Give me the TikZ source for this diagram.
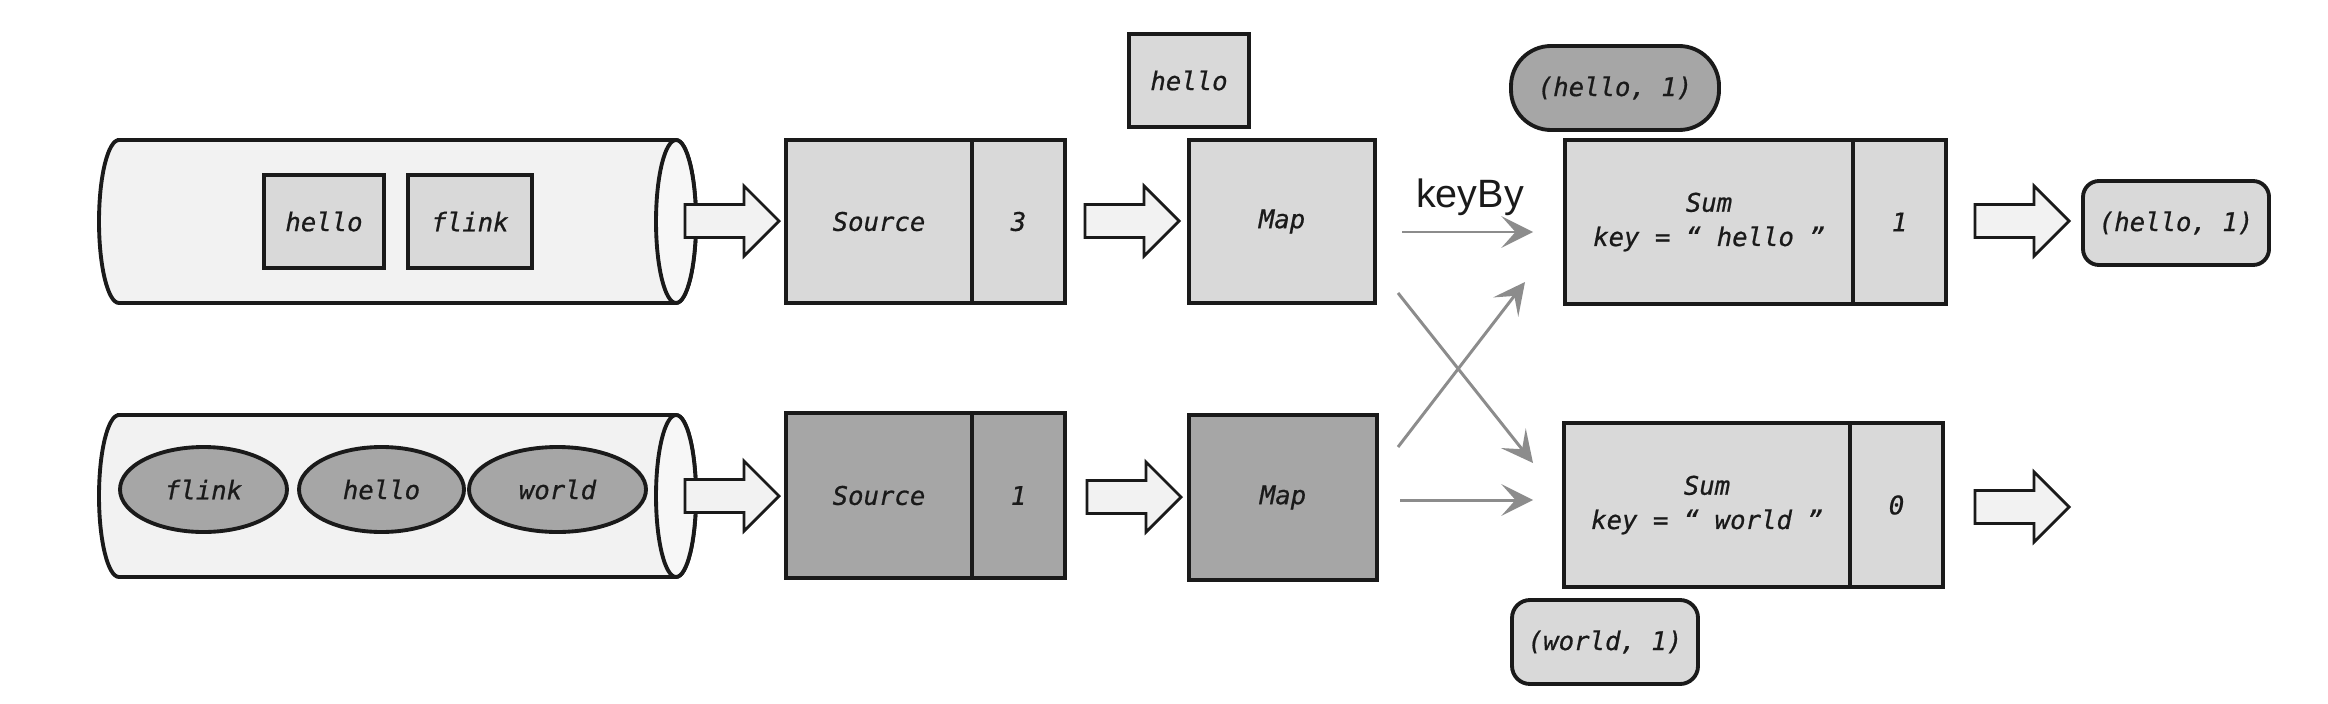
\documentclass[tikz,border=0pt]{standalone}
\usepackage{fontspec}
\setmainfont{Liberation Sans}
\newfontfamily\monofam{DejaVu Sans Mono}[FakeBold=0.7]
\usetikzlibrary{arrows.meta,shapes.geometric,calc}
\definecolor{lightfill}{HTML}{D9D9D9}
\definecolor{darkfill}{HTML}{A6A6A6}
\definecolor{palefill}{HTML}{F2F2F2}
\definecolor{edgecol}{HTML}{1A1A1A}
\definecolor{linkcol}{HTML}{8C8C8C}
\begin{document}
\begin{tikzpicture}[x=0.02cm,y=-0.02cm,
  txt/.style={font=\monofam\itshape\fontsize{14.6pt}{19.5pt}\selectfont, text=edgecol},
  sz/.style 2 args={minimum width=#1*0.02cm, minimum height=#2*0.02cm},
  box/.style={txt, draw=edgecol, line width=2.2pt, fill=lightfill, inner sep=0pt,
    outer sep=0pt, align=center, anchor=north west},
  darkbox/.style={box, fill=darkfill},
  ell/.style={txt, ellipse, draw=edgecol, line width=2.2pt, fill=darkfill, inner sep=0pt},
  cyl/.style={draw=edgecol, line width=2.2pt, fill=palefill},
  barrow/.style={draw=edgecol, line width=1.6pt, fill=palefill, line join=miter},
  link/.style={draw=linkcol, line width=1.7pt, -{Stealth[length=18pt,width=18pt,inset=8pt]}},
  blockarrow/.pic={\draw[barrow] (-47,-16.5) -- (12,-16.5) -- (12,-35) -- (47,0) -- (12,35) -- (12,16.5) -- (-47,16.5) -- cycle;}
]
\useasboundingbox (0,0) rectangle (2328,703);

% ---- cylinders ----
\draw[cyl] (119,140) -- (676,140) arc[start angle=90, end angle=-90, x radius=0.4cm, y radius=1.63cm]
  -- (119,303) arc[start angle=270, end angle=90, x radius=0.4cm, y radius=1.63cm] -- cycle;
\draw[cyl, fill=white!40!palefill] (676,221.5) ellipse[x radius=0.4cm, y radius=1.63cm];
\draw[cyl] (119,415) -- (676,415) arc[start angle=90, end angle=-90, x radius=0.4cm, y radius=1.62cm]
  -- (119,577) arc[start angle=270, end angle=90, x radius=0.4cm, y radius=1.62cm] -- cycle;
\draw[cyl, fill=white!40!palefill] (676,496) ellipse[x radius=0.4cm, y radius=1.62cm];

% ---- input elements ----
\node[box, sz={120}{93}] (inhello) at (264,175) {hello};
\node[box, sz={124}{93}] (inflink) at (408,175) {flink};
\node[ell, sz={167}{85}] (eflink) at (203.5,489.5) {flink};
\node[ell, sz={165}{85}] (ehello) at (381.5,489.5) {hello};
\node[ell, sz={177}{85}] (eworld) at (557.5,489.5) {world};

% ---- block arrows ----
\pic at (732,221) {blockarrow};
\pic at (732,496) {blockarrow};
\pic at (1132,221) {blockarrow};
\pic at (1134,497) {blockarrow};
\pic at (2022,221) {blockarrow};
\pic at (2022,507) {blockarrow};

% ---- sources ----
\node[box, sz={186}{163}] (src1) at (786,140) {Source};
\node[box, sz={93}{163}] (par1) at (972,140) {3};
\node[darkbox, sz={186}{165}] (src2) at (786,413) {Source};
\node[darkbox, sz={93}{165}] (par2) at (972,413) {1};

% ---- maps ----
\node[box, sz={120}{93}] (flyhello) at (1129,34) {hello};
\node[box, sz={186}{163}] (map1) at (1189,140) {Map};
\node[darkbox, sz={188}{165}] (map2) at (1189,415) {Map};

% ---- sums ----
\node[darkbox, sz={208}{84}, rounded corners=0.8cm] (pill) at (1511,46) {(hello, 1)};
\node[box, sz={288}{164}] (sum1) at (1565,140) {Sum\\key = “ hello ”};
\node[box, sz={93}{164}] (cnt1) at (1853,140) {1};
\node[box, sz={286}{164}] (sum2) at (1564,423) {Sum\\key = “ world ”};
\node[box, sz={93}{164}] (cnt2) at (1850,423) {0};
\node[box, sz={186}{84}, rounded corners=0.36cm] (worldone) at (1512,600) {(world, 1)};
\node[box, sz={186}{84}, rounded corners=0.32cm] (helloone) at (2083,181) {(hello, 1)};

% ---- keyBy connectors ----
\node[font=\fontsize{22.5pt}{26pt}\selectfont, text=edgecol, inner sep=0pt] (keyby) at (1470,197) {keyBy};
\coordinate (a1) at (1402,232); \coordinate (b1) at (1533,232);
\coordinate (a2) at (1398,293); \coordinate (b2) at (1533,463);
\coordinate (a3) at (1398,447); \coordinate (b3) at (1525,282);
\coordinate (a4) at (1400,500); \coordinate (b4) at (1533,500);
\draw[link] (a1) -- (b1);
\draw[link] (a2) -- (b2);
\draw[link] (a3) -- (b3);
\draw[link] (a4) -- (b4);
\end{tikzpicture}
\end{document}
